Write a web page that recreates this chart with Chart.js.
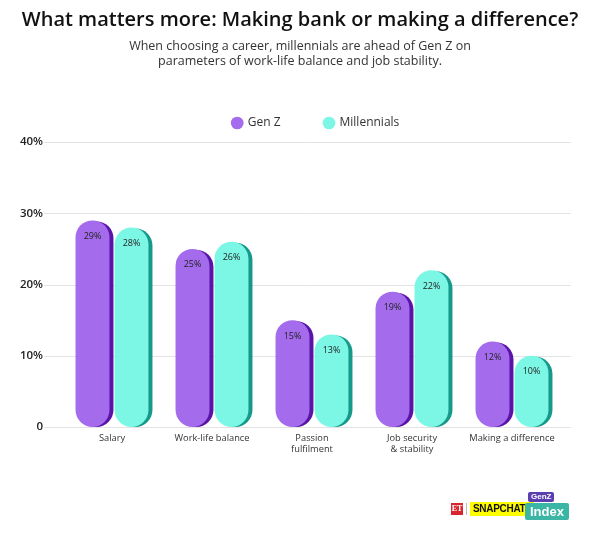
<!DOCTYPE html>
<html>
<head>
<meta charset="utf-8">
<script src="https://cdn.jsdelivr.net/npm/chart.js@4"></script>
<style>
  body { margin: 0; background: #fff; }
  #wrap { position: relative; width: 600px; height: 538px; }
  .logo { position: absolute; font-family: "Liberation Sans", Arial, sans-serif; font-weight: bold; line-height: 1; }
</style>
</head>
<body>
<div id="wrap">
  <canvas id="careerChart" width="600" height="538"></canvas>
  <div class="logo" style="left:451px;top:503px;width:12px;height:12px;background:#d8262e;color:#fff;font-size:8px;text-align:center;line-height:12px;font-family:'Liberation Serif',serif;">ET</div>
  <div class="logo" style="left:466px;top:503px;width:1px;height:12px;background:#bbb;"></div>
  <div class="logo" style="left:470px;top:502px;padding:2px 3px;background:#fffc00;color:#111;font-size:10px;letter-spacing:-0.3px;">SNAPCHAT&#9647;</div>
  <div class="logo" style="left:528px;top:492px;padding:1px 3px;background:#5b3fb0;color:#fff;font-size:8px;border-radius:2px;">GenZ</div>
  <div class="logo" style="left:525px;top:503px;padding:2px 5px;background:#3bb5a4;color:#fff;font-size:13px;border-radius:2px;">Index</div>
</div>
<script>
// data
var categories = ["Salary", "Work-life balance", ["Passion", "fulfilment"], ["Job security", "& stability"], "Making a difference"];
var genZ = [29, 25, 15, 19, 12];
var millennials = [28, 26, 13, 22, 10];
var yTicks = [0, 10, 20, 30, 40];

var shadowColors = ['#5a14a8', '#16998a'];

// darker pill behind each bar, shifted to the right
var barShadow = {
  id: 'barShadow',
  beforeDatasetDraw: function(chart, args) {
    var ctx = chart.ctx;
    var meta = args.meta;
    ctx.save();
    ctx.fillStyle = shadowColors[args.index];
    meta.data.forEach(function(bar) {
      var w = bar.width;
      var top = bar.y + 1;
      var h = bar.base - top;
      ctx.beginPath();
      ctx.roundRect(bar.x - w / 2 + 4, top, w, h, w / 2);
      ctx.fill();
    });
    ctx.restore();
  }
};

// value labels near the top of each bar
var barLabels = {
  id: 'barLabels',
  afterDatasetsDraw: function(chart) {
    var ctx = chart.ctx;
    ctx.save();
    ctx.font = '9px "Open Sans", sans-serif';
    ctx.fillStyle = '#222';
    ctx.textAlign = 'center';
    ctx.textBaseline = 'middle';
    chart.data.datasets.forEach(function(ds, i) {
      chart.getDatasetMeta(i).data.forEach(function(bar, j) {
        ctx.fillText(ds.data[j] + '%', bar.x, bar.y + 16);
      });
    });
    ctx.restore();
  }
};

// horizontal grid lines running wider than the plot area
var wideGrid = {
  id: 'wideGrid',
  beforeDatasetsDraw: function(chart) {
    var ctx = chart.ctx;
    var y = chart.scales.y;
    ctx.save();
    ctx.strokeStyle = '#e3e3e3';
    ctx.lineWidth = 1;
    yTicks.forEach(function(v) {
      var py = Math.round(y.getPixelForValue(v)) + 0.5;
      ctx.beginPath();
      ctx.moveTo(44, py);
      ctx.lineTo(571, py);
      ctx.stroke();
    });
    ctx.restore();
  }
};

// nudge the legend a little right and up, as in the original
var legendShift = {
  id: 'legendShift',
  afterLayout: function(chart) {
    if (chart.legend) {
      chart.legend.left += 16;
      chart.legend.right += 16;
      chart.legend.top -= 3;
      chart.legend.bottom -= 3;
    }
  }
};

var ctx = document.getElementById('careerChart');
var chart = new Chart(ctx, {
  type: 'bar',
  data: {
    labels: categories,
    datasets: [
      {
        label: 'Gen Z',
        data: genZ,
        backgroundColor: '#a46bec',
        borderRadius: 17,
        borderSkipped: false,
        categoryPercentage: 0.78,
        barPercentage: 0.87
      },
      {
        label: 'Millennials',
        data: millennials,
        backgroundColor: '#7df7e5',
        borderRadius: 17,
        borderSkipped: false,
        categoryPercentage: 0.78,
        barPercentage: 0.87
      }
    ]
  },
  options: {
    responsive: false,
    animation: false,
    layout: { padding: { left: 0, right: 0, top: 8, bottom: 0 } },
    plugins: {
      title: {
        display: true,
        text: 'What matters more: Making bank or making a difference?',
        color: '#111',
        font: { family: '"Open Sans", sans-serif', size: 20, weight: '600' },
        padding: { top: 0, bottom: 7 }
      },
      subtitle: {
        display: true,
        text: ['When choosing a career, millennials are ahead of Gen Z on', 'parameters of work-life balance and job stability.'],
        color: '#333',
        font: { family: '"Open Sans", sans-serif', size: 12.5 },
        padding: { top: 0, bottom: 7 }
      },
      legend: {
        position: 'top',
        labels: {
          usePointStyle: true,
          pointStyle: 'circle',
          boxWidth: 9,
          boxHeight: 9,
          padding: 44,
          color: '#333',
          font: { family: '"Open Sans", sans-serif', size: 12 }
        }
      },
      tooltip: { enabled: false }
    },
    scales: {
      x: {
        grid: { display: false, drawTicks: false },
        border: { display: false },
        ticks: {
          color: '#333',
          padding: 6,
          maxRotation: 0,
          font: { family: '"Open Sans", sans-serif', size: 9.3 }
        },
        afterFit: function(s) { s.height = 111; }
      },
      y: {
        min: 0,
        max: 40,
        grid: { display: false, drawTicks: false },
        border: { display: false },
        afterBuildTicks: function(s) { s.ticks = yTicks.map(function(v) { return { value: v }; }); },
        ticks: {
          color: '#222',
          padding: 19,
          font: { family: '"Open Sans", sans-serif', size: 11.5, weight: '600' },
          callback: function(v) { return v === 0 ? '0' : v + '%'; }
        },
        afterFit: function(s) { s.width = 62; }
      },
      yRight: {
        position: 'right',
        grid: { display: false, drawTicks: false },
        border: { display: false },
        ticks: { display: false },
        afterFit: function(s) { s.width = 38; }
      }
    }
  },
  plugins: [wideGrid, barShadow, barLabels, legendShift]
});
</script>
</body>
</html>
